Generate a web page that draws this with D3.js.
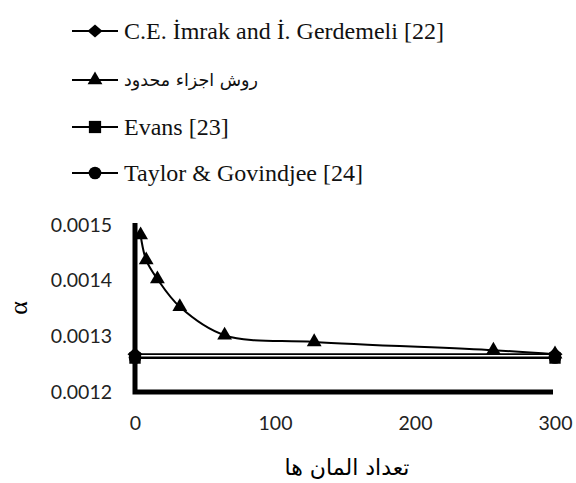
<!DOCTYPE html>
<html><head><meta charset="utf-8">
<script src="https://cdn.jsdelivr.net/npm/d3@7"></script>
<style>body{margin:0;background:#fff}svg{display:block}</style>
</head><body>
<script>
const xTicks = [0, 100, 200, 300];
const yTicks = [0.0012, 0.0013, 0.0014, 0.0015];
const femX = [4, 8, 16, 32, 64, 128, 256, 300];
const femY = [0.001482, 0.001437, 0.001403, 0.001353, 0.001302, 0.00129, 0.001275, 0.001268];
const refX = [0, 300];
const imrakY = [0.001268, 0.001268];
const evansY = [0.001261, 0.001261];
const taylorY = [0.001262, 0.001262];
const legendLabels = ["C.E. İmrak and İ. Gerdemeli [22]", "روش اجزاء محدود", "Evans [23]", "Taylor & Govindjee [24]"];
const legendSymbols = ["diamond", "triangle", "square", "circle"];

const SERIF = "'Liberation Serif', 'Times New Roman', serif";
const W = 576, H = 483;
const svg = d3.select("body").append("svg").attr("width", W).attr("height", H);
const x = d3.scaleLinear().domain([0, 300]).range([135, 555]);
const y = d3.scaleLinear().domain([0.0012, 0.0015]).range([392, 225]);

const wideDiamond = { draw(ctx, size) { const a = Math.sqrt(size) * 0.8, b = a * 0.87;
  ctx.moveTo(-a, 0); ctx.lineTo(0, -b); ctx.lineTo(a, 0); ctx.lineTo(0, b); ctx.closePath(); } };
const sym = {diamond: wideDiamond, triangle: d3.symbolTriangle, square: d3.symbolSquare, circle: d3.symbolCircle};
const sizes = {diamond: 88, triangle: 95, square: 150, circle: 125};

// axes
const xAxis = d3.axisBottom(x).tickValues(xTicks).tickSize(0).tickPadding(24).tickFormat(d3.format("d"));
const yAxis = d3.axisLeft(y).tickValues(yTicks).tickSize(0).tickPadding(23).tickFormat(d3.format(".4f"));
const gx = svg.append("g").attr("transform", "translate(0,392)").call(xAxis);
const gy = svg.append("g").attr("transform", "translate(135,0)").call(yAxis);
[gx, gy].forEach(g => {
  g.select(".domain").remove();
  g.selectAll("text").attr("font-family", "Lato, sans-serif").attr("font-size", 19.5).attr("fill", "#222");
});
svg.append("path").attr("d", `M${x(0)},${y(0.0015)-2}V${y(0.0012)}H${x(300)-2}`)
  .attr("fill", "none").attr("stroke", "#000").attr("stroke-width", 5);

// reference lines
const line = d3.line().x(d => x(d[0])).y(d => y(d[1]));
[[imrakY, "diamond"], [evansY, "square"], [taylorY, "circle"]].forEach(([vals, s]) => {
  const pts = refX.map((v, i) => [v, vals[i]]);
  svg.append("path").attr("d", line(pts)).attr("fill", "none").attr("stroke", "#000").attr("stroke-width", 1.8);
  svg.selectAll(null).data(pts).enter().append("path")
    .attr("d", d3.symbol(sym[s], s === "square" ? 130 : sizes[s])).attr("transform", d => `translate(${x(d[0])},${y(d[1])})`);
});

// FEM
const femPts = femX.map((v, i) => [v, femY[i]]);
svg.append("path").attr("d", d3.line().curve(d3.curveCatmullRom).x(d => x(d[0])).y(d => y(d[1]))(femPts))
  .attr("fill", "none").attr("stroke", "#000").attr("stroke-width", 2);
svg.selectAll(null).data(femPts).enter().append("path")
  .attr("d", d3.symbol(d3.symbolTriangle, 95)).attr("transform", d => `translate(${x(d[0])},${y(d[1])})`);

// axis titles
svg.append("text").attr("transform", "translate(27,308) rotate(-90)").attr("text-anchor", "middle")
  .attr("font-family", SERIF).attr("font-size", 26).text("α");
svg.append("text").attr("x", 347).attr("y", 475).attr("text-anchor", "middle")
  .attr("font-family", "DejaVu Sans, sans-serif").attr("font-size", 22).text("تعداد المان ها");

// legend
const rowsY = [31, 80, 127, 173];
legendLabels.forEach((lab, i) => {
  const g = svg.append("g").attr("transform", `translate(0,${rowsY[i]})`);
  g.append("line").attr("x1", 72).attr("x2", 118).attr("stroke", "#000").attr("stroke-width", 2);
  const s = legendSymbols[i];
  g.append("path").attr("d", d3.symbol(sym[s], sizes[s])).attr("transform", "translate(95,0)");
  const t = g.append("text").attr("x", 124).attr("dy", "0.35em").attr("fill", "#111");
  if (i === 1) {
    t.attr("font-family", "DejaVu Sans, sans-serif").attr("font-size", 17.5).attr("direction", "rtl")
     .attr("text-anchor", "end").text(lab);
  } else {
    t.attr("font-family", SERIF).attr("font-size", 24).text(lab);
  }
});
</script>
</body></html>
